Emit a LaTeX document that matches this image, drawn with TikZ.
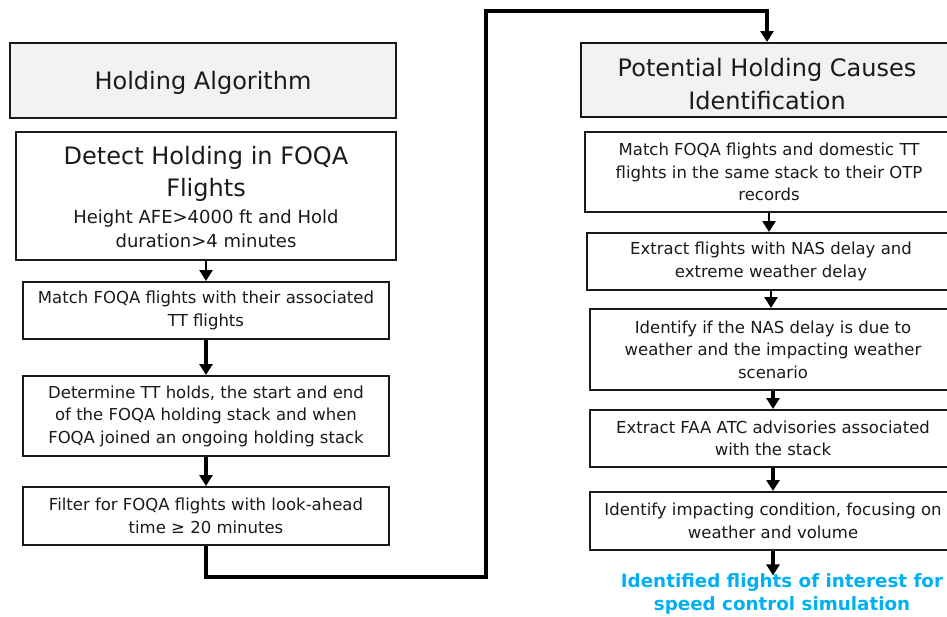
\documentclass[tikz,border=0pt]{standalone}
\usepackage{fontspec}
\setmainfont{DejaVu Sans}
\usetikzlibrary{arrows.meta}
\definecolor{titlegray}{HTML}{F2F2F2}
\definecolor{outblue}{HTML}{00B0F0}
\definecolor{ink}{HTML}{1A1A1A}

\begin{document}
\begin{tikzpicture}[x=1pt,y=-1pt,
  box/.style={draw=ink, line width=2pt, align=center, inner sep=0pt, text=ink},
  titlebox/.style={box, fill=titlegray},
  titletext/.style={plain, font=\fontsize{24}{33}\selectfont},
  stepbox/.style={box, fill=white, font=\fontsize{16.5}{22.5}\selectfont},
  plain/.style={align=center, inner sep=0pt, text=ink},
  flow/.style={draw=black, line width=3.5pt, -{Triangle[width=13pt,length=11pt]}},
  thinflow/.style={flow, line width=2.5pt},
  loopline/.style={flow, line width=4pt}
]
\useasboundingbox (0,0) rectangle (947,616);
\begin{scope}
\clip (0,0) rectangle (947,616);

% ---------------- left column: holding algorithm ----------------
\node[titlebox, minimum width=386pt, minimum height=75pt] (hold) at (203,80.5) {};
\node[titletext] (holdtext) at (203,83) {Holding Algorithm};

\node[box, minimum width=380pt, minimum height=128pt] (detect) at (206,196) {};
\node[plain, font=\fontsize{24}{32}\selectfont] (detecttitle) at (206,174) {Detect Holding in FOQA\\Flights};
\node[plain, font=\fontsize{18}{24}\selectfont] (detectsub) at (206,229) {Height AFE>4000 ft and Hold\\duration>4 minutes};

\node[stepbox, minimum width=366pt, minimum height=57pt] (match) at (206,310.5)
  {Match FOQA flights with their associated\\TT flights};
\node[stepbox, minimum width=366pt, minimum height=80pt] (determine) at (206,416)
  {Determine TT holds, the start and end\\of the FOQA holding stack and when\\FOQA joined an ongoing holding stack};
\node[stepbox, minimum width=366pt, minimum height=58pt] (filter) at (206,516)
  {Filter for FOQA flights with look-ahead\\time ≥ 20 minutes};

% ---------------- right column: holding causes ----------------
\node[titlebox, minimum width=372pt, minimum height=74pt] (causes) at (767,80) {};
\node[titletext] (causestext) at (767,84.5) {Potential Holding Causes\\Identification};
\node[stepbox, minimum width=368pt, minimum height=80pt] (otp) at (769,172)
  {Match FOQA flights and domestic TT\\flights in the same stack to their OTP\\records};
\node[stepbox, minimum width=368pt, minimum height=57pt] (nas) at (771,261.5)
  {Extract flights with NAS delay and\\extreme weather delay};
\node[stepbox, minimum width=366pt, minimum height=81pt] (wx) at (773,349.5)
  {Identify if the NAS delay is due to\\weather and the impacting weather\\scenario};
\node[stepbox, minimum width=366pt, minimum height=57pt] (faa) at (773,438.5)
  {Extract FAA ATC advisories associated\\with the stack};
\node[stepbox, minimum width=366pt, minimum height=58pt] (impact) at (773,521)
  {Identify impacting condition, focusing on\\weather and volume};
\node[plain, text=outblue, font=\fontsize{18.3}{23}\bfseries] (result) at (782,594)
  {Identified flights of interest for\\speed control simulation};

% ---------------- connectors ----------------
\draw[thinflow] (detect.south) -- (match.north);
\draw[flow] (match.south) -- (determine.north);
\draw[flow] (determine.south) -- (filter.north);

\coordinate (loopbottom) at (486,577);
\coordinate (looptop) at (486,11);
\draw[loopline, line join=miter] (filter.south) |- (loopbottom) -- (looptop) -| (causes.north);

\draw[thinflow] (otp.south) -- (otp.south |- nas.north);
\draw[thinflow] (nas.south) -- (nas.south |- wx.north);
\draw[flow] (wx.south) -- (faa.north);
\draw[flow] (faa.south) -- (impact.north);
\draw[flow] (impact.south) -- ([yshift=-2pt]impact.south |- result.north);
\end{scope}
\end{tikzpicture}
\end{document}
